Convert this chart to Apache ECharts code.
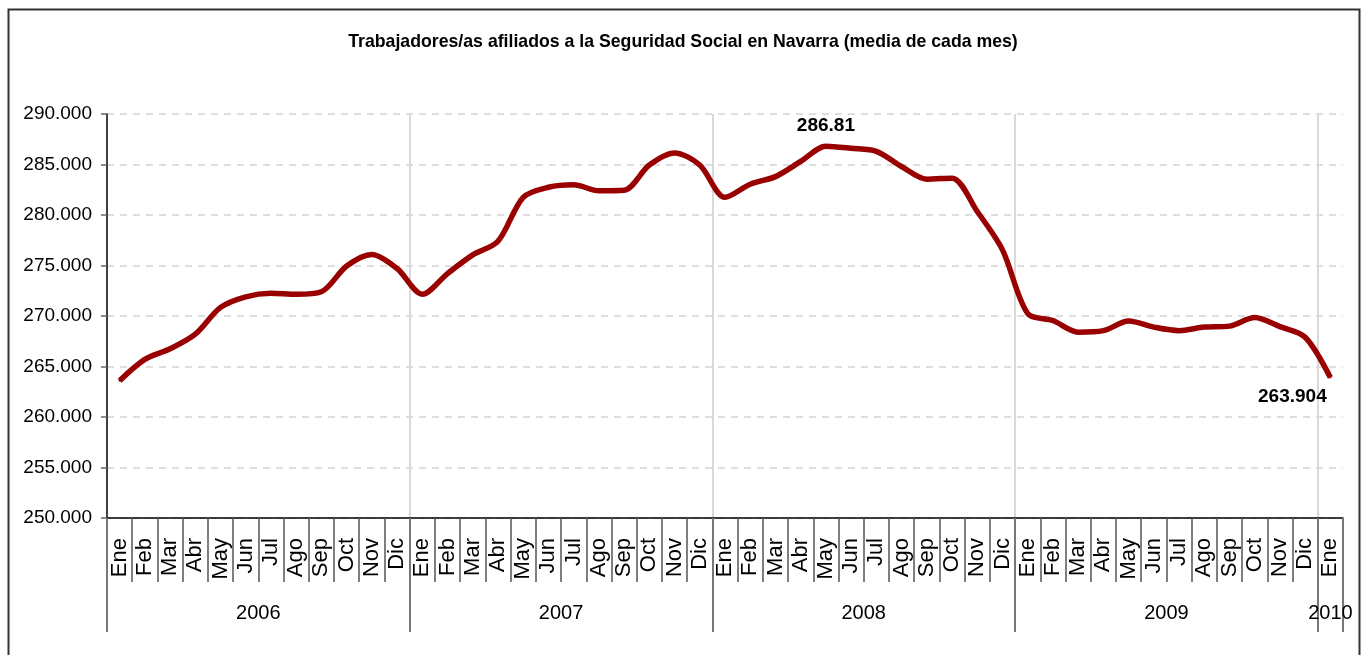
<!DOCTYPE html>
<html>
<head>
<meta charset="utf-8">
<title>Afiliados Seguridad Social Navarra</title>
<script src="https://cdn.jsdelivr.net/npm/echarts@6/dist/echarts.min.js"></script>
<style>
    html, body {
        margin: 0;
        padding: 0;
        background-color: #fff;
    }
    #afiliados-chart {
        width: 1366px;
        height: 655px;
    }
</style>
</head>
<body>
<div id="afiliados-chart"></div>
<script>
    // meses (Ene 2006 - Ene 2010)
    let meses = ['Ene', 'Feb', 'Mar', 'Abr', 'May', 'Jun', 'Jul', 'Ago', 'Sep', 'Oct', 'Nov', 'Dic',
        'Ene', 'Feb', 'Mar', 'Abr', 'May', 'Jun', 'Jul', 'Ago', 'Sep', 'Oct', 'Nov', 'Dic',
        'Ene', 'Feb', 'Mar', 'Abr', 'May', 'Jun', 'Jul', 'Ago', 'Sep', 'Oct', 'Nov', 'Dic',
        'Ene', 'Feb', 'Mar', 'Abr', 'May', 'Jun', 'Jul', 'Ago', 'Sep', 'Oct', 'Nov', 'Dic',
        'Ene'];
    let anios = ['2006', '2007', '2008', '2009', '2010'];
    // limites de cada año y centro de su etiqueta (en meses)
    let limitesAnio = [0, 12, 24, 36, 48, 49];
    let cambiosAnio = [12, 24, 36, 48];
    let centrosAnio = [6, 18, 30, 42, 48.5];

    // media mensual de afiliados
    let afiliados = [
        263600, 265700, 266750, 268200, 270850, 271900, 272250, 272150, 272400, 274950, 276100, 274700,
        272150, 274200, 276050, 277400, 281750, 282750, 283000, 282400, 282450, 284950, 286150, 284950,
        281750, 283050, 283800, 285300, 286810, 286600, 286300, 284800, 283550, 283650, 280350, 276550,
        270250, 269550, 268400, 268550, 269500, 268900, 268550, 268900, 269000, 269850, 268950, 267900,
        263904
    ];
    let indiceMax = 28,
        indiceFin = 48;
    let etiquetaMax = '286.81',
        etiquetaFin = '263.904';

    let fuente = "'Liberation Sans', Arial, sans-serif";

    let datos = afiliados.map(function (v, i) {
        if (i === indiceMax) {
            return {
                value: v,
                label: {show: true, position: 'top', distance: 10, formatter: etiquetaMax}
            };
        }
        if (i === indiceFin) {
            return {
                value: v,
                label: {show: true, position: 'bottom', distance: 5, offset: [-38, 4], formatter: etiquetaFin}
            };
        }
        return v;
    });

    let option = {
        animation: false,
        backgroundColor: '#fff',
        title: {
            text: 'Trabajadores/as afiliados a la Seguridad Social en Navarra (media de cada mes)',
            left: 'center',
            top: 28,
            textStyle: {
                fontFamily: fuente,
                fontSize: 17.7,
                fontWeight: 'bold',
                color: '#000'
            }
        },
        grid: {
            left: 107,
            right: 23,
            top: 114,
            bottom: 137,
            containLabel: false
        },
        xAxis: [
            {
                type: 'category',
                data: meses,
                position: 'bottom',
                boundaryGap: true,
                axisLine: {show: true, lineStyle: {color: '#000', width: 1.5}},
                axisTick: {show: true, interval: 0, length: 64, lineStyle: {color: '#555', width: 1.5}},
                axisLabel: {
                    interval: 0,
                    rotate: 90,
                    margin: 20,
                    fontFamily: fuente,
                    fontSize: 22,
                    color: '#000'
                },
                splitLine: {show: false}
            },
            {
                // eje de años
                type: 'value',
                position: 'bottom',
                min: 0,
                max: 49,
                axisLine: {show: false},
                axisTick: {
                    show: true,
                    customValues: limitesAnio,
                    length: 114,
                    lineStyle: {color: '#777', width: 2}
                },
                axisLabel: {
                    customValues: centrosAnio,
                    margin: 85,
                    fontFamily: fuente,
                    fontSize: 20,
                    color: '#000',
                    formatter: function (v) {
                        return anios[Math.floor(v / 12)];
                    }
                },
                splitLine: {show: false}
            },
            {
                // lineas verticales entre años
                type: 'value',
                position: 'bottom',
                min: 0,
                max: 49,
                axisLine: {show: false},
                axisTick: {show: false, customValues: cambiosAnio},
                axisLabel: {show: false},
                splitLine: {show: true, lineStyle: {color: '#d9d9d9', width: 2}}
            }
        ],
        yAxis: {
            type: 'value',
            min: 250000,
            max: 290000,
            interval: 5000,
            axisLine: {show: true, lineStyle: {color: '#000', width: 1.5}},
            axisTick: {show: true, length: 6, lineStyle: {color: '#666', width: 1.5}},
            axisLabel: {
                margin: 15,
                fontFamily: fuente,
                fontSize: 19,
                color: '#000',
                formatter: function (v) {
                    return String(v / 1000) + '.000';
                }
            },
            splitLine: {
                show: true,
                lineStyle: {color: '#d4d4d4', width: 1.5, type: [7, 6]}
            }
        },
        graphic: [
            {
                type: 'rect',
                left: 6,
                top: 7,
                shape: {width: 1351, height: 700},
                style: {fill: 'none', stroke: '#333', lineWidth: 2},
                silent: true
            }
        ],
        series: [
            {
                name: 'Afiliados',
                type: 'line',
                xAxisIndex: 0,
                data: datos,
                smooth: 0.3,
                symbol: 'circle',
                symbolSize: 2,
                showSymbol: true,
                showAllSymbol: true,
                lineStyle: {color: '#990000', width: 5.5},
                itemStyle: {color: '#990000'},
                label: {
                    fontFamily: fuente,
                    fontSize: 19,
                    fontWeight: 'bold',
                    color: '#000'
                }
            }
        ]
    };

    let afiliadosChart = echarts.init(document.getElementById('afiliados-chart'));
    afiliadosChart.setOption(option);
</script>
</body>
</html>
